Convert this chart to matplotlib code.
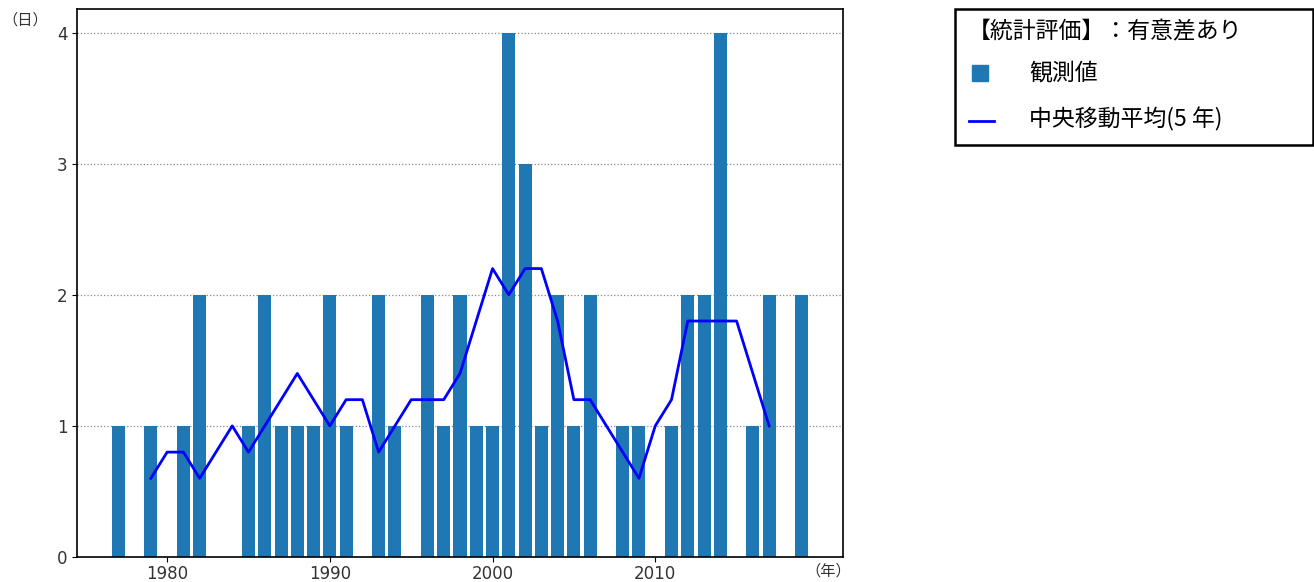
import matplotlib.pyplot as plt
from matplotlib.patches import Rectangle

plt.rcParams['font.family'] = ['Noto Sans CJK JP', 'DejaVu Sans']

years = list(range(1977, 2020))
counts = [1, 0, 1, 0, 1, 2, 0, 0, 1, 2,
          1, 1, 1, 2, 1, 0, 2, 1, 0, 2,
          1, 2, 1, 1, 4, 3, 1, 2, 1, 2,
          0, 1, 1, 0, 1, 2, 2, 4, 0, 1,
          2, 0, 2]

ma_years = list(range(1979, 2018))
ma_values = [0.6, 0.8, 0.8, 0.6, 0.8, 1.0, 0.8, 1.0, 1.2, 1.4,
             1.2, 1.0, 1.2, 1.2, 0.8, 1.0, 1.2, 1.2, 1.2, 1.4,
             1.8, 2.2, 2.0, 2.2, 2.2, 1.8, 1.2, 1.2, 1.0, 0.8,
             0.6, 1.0, 1.2, 1.8, 1.8, 1.8, 1.8, 1.4, 1.0]

xticks = [1980, 1990, 2000, 2010]
yticks = [0, 1, 2, 3, 4]


def draw():
    fig = plt.figure(figsize=(13.14, 5.82), dpi=100)
    ax = fig.add_axes([77 / 1314, 25 / 582, 766 / 1314, 548 / 582])

    ax.bar(years, counts, width=0.8, color='#1f77b4', zorder=2)
    ax.plot(ma_years, ma_values, color='#0000ff', lw=2, zorder=3)

    ax.set_ylim(0, 4.18)
    ax.set_yticks(yticks)
    ax.set_xticks(xticks)
    ax.tick_params(labelsize=12, labelcolor='#333333', color='black')
    ax.tick_params(axis='x', pad=2)
    for lab in ax.get_xticklabels() + ax.get_yticklabels():
        lab.set_family('DejaVu Sans')
    ax.grid(axis='y', linestyle=':', color='#888888', lw=0.9, zorder=1)
    for sp in ax.spines.values():
        sp.set_linewidth(1.2)

    fig.text(25 / 1314, 1 - 20 / 582, '（日）', fontsize=11, ha='center', va='center', color='#333333')
    fig.text(828 / 1314, 1 - 571 / 582, '（年）', fontsize=11, ha='center', va='center', color='#333333')

    # legend panel
    fig.patches.append(Rectangle((955 / 1314, 1 - 145 / 582), 358 / 1314, 136 / 582,
                                 transform=fig.transFigure, fill=False,
                                 edgecolor='black', lw=1.8))
    fig.text(968 / 1314, 1 - 32 / 582, '【統計評価】：有意差あり', fontsize=16.5, va='center')
    fig.patches.append(Rectangle((972 / 1314, 1 - 81 / 582), 16 / 1314, 16 / 582,
                                 transform=fig.transFigure, color='#1f77b4'))
    fig.text(1029 / 1314, 1 - 73 / 582, '観測値', fontsize=16.5, va='center')
    fig.lines.append(plt.Line2D([969 / 1314, 994 / 1314], [1 - 121 / 582, 1 - 121 / 582],
                                transform=fig.transFigure, color='#0000ff', lw=2))
    fig.text(1029 / 1314, 1 - 119 / 582, '中央移動平均(5 年)', fontsize=16.5, va='center')

    fig.savefig('out.png', dpi=100)


if __name__ == "__main__":
    draw()
